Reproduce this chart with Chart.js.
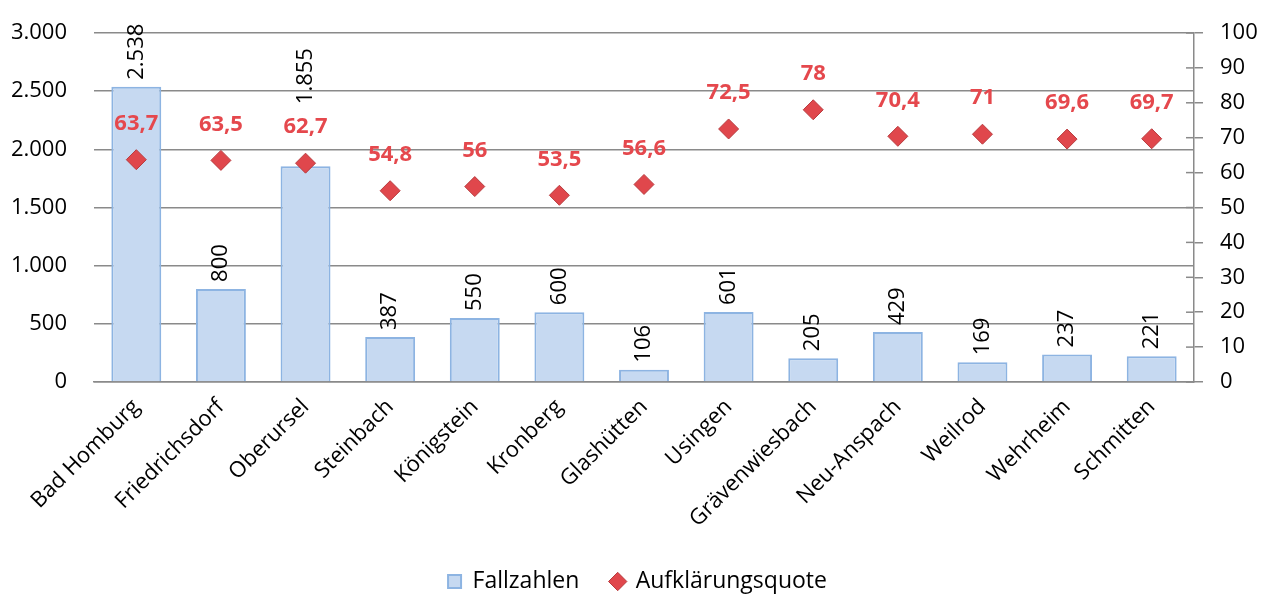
<!DOCTYPE html>
<html>
<head>
<meta charset="utf-8">
<title>Fallzahlen und Aufklärungsquote</title>
<script src="https://cdn.jsdelivr.net/npm/chart.js@4/dist/chart.umd.min.js"></script>
<style>
  html, body { margin: 0; padding: 0; background: #fff; }
  #wrap { width: 1275px; height: 603px; }
</style>
</head>
<body>
<div id="wrap"><canvas id="chart" width="1275" height="603"></canvas></div>
<script>
const staedte = ['Bad Homburg', 'Friedrichsdorf', 'Oberursel', 'Steinbach', 'Königstein', 'Kronberg',
  'Glashütten', 'Usingen', 'Grävenwiesbach', 'Neu-Anspach', 'Weilrod', 'Wehrheim', 'Schmitten'];
const fallzahlen = [2538, 800, 1855, 387, 550, 600, 106, 601, 205, 429, 169, 237, 221];
const quote = [63.7, 63.5, 62.7, 54.8, 56, 53.5, 56.6, 72.5, 78, 70.4, 71, 69.6, 69.7];

const FONT = "'Open Sans', sans-serif";
const ROT = '#E5484D';

// deutsche Zahlenformatierung
function formatDe(v) {
  const parts = String(v).split('.');
  parts[0] = parts[0].replace(/\B(?=(\d{3})+(?!\d))/g, '.');
  return parts.join(',');
}

// Datenbeschriftungen (Balken gedreht, Quote rot fett)
const labelPlugin = {
  id: 'labels',
  afterDatasetsDraw(chart) {
    const ctx = chart.ctx;
    const barMeta = chart.getDatasetMeta(0);
    const ptMeta = chart.getDatasetMeta(1);
    ctx.save();
    const redBoxes = [];
    ctx.font = 'bold 22px ' + FONT;
    ctx.fillStyle = ROT;
    ctx.textAlign = 'center';
    ctx.textBaseline = 'middle';
    ptMeta.data.forEach((p, i) => {
      const y = p.y - 36;
      ctx.fillText(formatDe(quote[i]), p.x, y);
      redBoxes.push({ x: p.x, top: y - 13, bottom: y + 13 });
    });
    ctx.font = '22px ' + FONT;
    ctx.fillStyle = '#000';
    barMeta.data.forEach((b, i) => {
      const txt = formatDe(fallzahlen[i]);
      const w = ctx.measureText(txt).width;
      let end = b.y - 7;
      const r = redBoxes[i];
      if (end - w < r.bottom && end > r.top) end = r.top - 10;
      ctx.save();
      ctx.translate(b.x, end);
      ctx.rotate(-Math.PI / 2);
      ctx.textAlign = 'left';
      ctx.textBaseline = 'middle';
      ctx.fillText(txt, 0, 0);
      ctx.restore();
    });
    ctx.restore();
  }
};

// kleine Teilstriche der rechten Achse nach innen
const innerTicks = {
  id: 'innerTicks',
  afterDraw(chart) {
    const s = chart.scales.y1;
    const ctx = chart.ctx;
    ctx.save();
    ctx.strokeStyle = '#8a8a8a';
    ctx.lineWidth = 1.5;
    s.ticks.forEach(t => {
      const y = s.getPixelForValue(t.value);
      ctx.beginPath();
      ctx.moveTo(s.left - 8, y);
      ctx.lineTo(s.left, y);
      ctx.stroke();
    });
    ctx.restore();
  }
};

// Legende: Abstand zwischen den Einträgen wie im Original
const legendLabels = chart => {
  const items = Chart.defaults.plugins.legend.labels.generateLabels(chart);
  items.sort((a, b) => a.datasetIndex - b.datasetIndex);
  items[0].text = items[0].text + '     ';
  return items;
};

function noOverflow(s) {
  s.paddingTop = 0;
  s.paddingBottom = 0;
}

Chart.defaults.font.family = FONT;
Chart.defaults.font.size = 22;
Chart.defaults.color = '#000';

new Chart(document.getElementById('chart').getContext('2d'), {
  type: 'bar',
  data: {
    labels: staedte,
    datasets: [{
      label: 'Fallzahlen',
      data: fallzahlen,
      yAxisID: 'y',
      backgroundColor: '#C6D9F1',
      borderColor: '#8DB4E2',
      borderWidth: 2,
      barPercentage: 0.59,
      categoryPercentage: 1,
      pointStyle: 'rect',
      order: 1
    }, {
      type: 'line',
      label: 'Aufklärungsquote',
      data: quote,
      yAxisID: 'y1',
      showLine: false,
      pointStyle: 'rectRot',
      pointRadius: 10,
      pointBackgroundColor: '#E0474C',
      pointBorderColor: '#B83C3F',
      pointBorderWidth: 1,
      backgroundColor: '#E0474C',
      borderColor: '#B83C3F',
      order: 0
    }]
  },
  options: {
    responsive: false,
    animation: false,
    layout: { padding: { top: 33, left: 0, right: 0, bottom: 0 } },
    plugins: {
      legend: {
        position: 'bottom',
        labels: {
          usePointStyle: true,
          boxWidth: 13,
          boxHeight: 13,
          padding: 2,
          font: { size: 23 },
          generateLabels: legendLabels
        }
      },
      tooltip: { enabled: false }
    },
    scales: {
      x: {
        grid: { display: false },
        border: { display: true, color: '#8a8a8a', width: 1.5 },
        ticks: { autoSkip: false, maxRotation: 45, minRotation: 45, padding: 4, font: { size: 22 } },
        afterFit: s => { s.height = 186; s.paddingLeft = 0; s.paddingRight = 0; }
      },
      y: {
        position: 'left',
        min: 0, max: 3000,
        ticks: { stepSize: 500, padding: 27, callback: v => formatDe(v) },
        grid: { color: '#8a8a8a', lineWidth: 1.5, drawTicks: false },
        border: { display: false },
        afterFit: s => { s.width = 94; noOverflow(s); }
      },
      y1: {
        position: 'right',
        min: 0, max: 100,
        ticks: { stepSize: 10, padding: 17 },
        grid: { drawOnChartArea: false, drawTicks: true, tickLength: 9, color: '#8a8a8a', lineWidth: 1.5 },
        border: { display: true, color: '#8a8a8a', width: 1.5 },
        afterFit: s => { s.width = 81; noOverflow(s); }
      }
    }
  },
  plugins: [labelPlugin, innerTicks]
});
</script>
</body>
</html>
